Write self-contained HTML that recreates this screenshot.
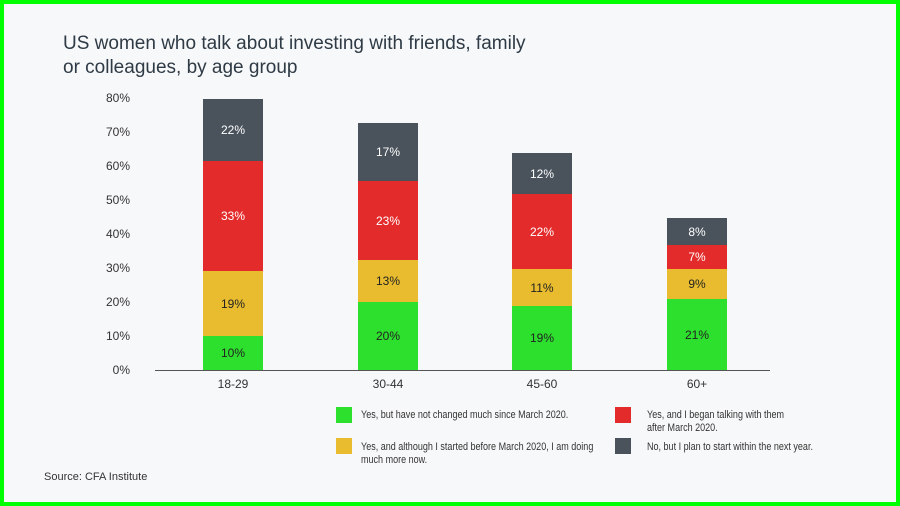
<!DOCTYPE html>
<html><head><meta charset="utf-8"><style>
body{margin:0;width:900px;height:506px;overflow:hidden;font-family:"Liberation Sans",sans-serif;}
.wrap{position:absolute;left:0;top:0;width:892px;height:498px;border:4px solid #0f0;background:#f7f8f9;}
.t{position:absolute;left:63px;top:32px;font-size:19px;color:#2e3a45;line-height:24px;}
.yl{position:absolute;left:90px;width:40px;text-align:right;font-size:12px;color:#333;}
.b{position:absolute;width:60px;display:flex;align-items:center;justify-content:center;font-size:12px;}
.xl{position:absolute;top:377px;width:60px;text-align:center;font-size:12px;color:#333;}
.lg{position:absolute;width:16px;height:16px;}
.lt{position:absolute;font-size:11px;color:#333;line-height:13px;transform:scaleX(0.82);transform-origin:0 0;white-space:nowrap;}
</style></head><body>
<div class="wrap"></div>
<div class="t">US women who talk about investing with friends, family<br>or colleagues, by age group</div>
<div class="yl" style="top:91px">80%</div>
<div class="yl" style="top:125px">70%</div>
<div class="yl" style="top:159px">60%</div>
<div class="yl" style="top:193px">50%</div>
<div class="yl" style="top:227px">40%</div>
<div class="yl" style="top:261px">30%</div>
<div class="yl" style="top:295px">20%</div>
<div class="yl" style="top:329px">10%</div>
<div class="yl" style="top:363px">0%</div>
<div style="position:absolute;left:155px;top:370px;width:615px;height:1px;background:#555"></div>

<div class="b" style="left:203px;top:99px;height:62px;background:#4a535c;color:#fff">22%</div>
<div class="b" style="left:203px;top:161px;height:110px;background:#e32b2b;color:#fff">33%</div>
<div class="b" style="left:203px;top:271px;height:65px;background:#e8bc2e;color:#222">19%</div>
<div class="b" style="left:203px;top:336px;height:34px;background:#2ee02e;color:#222">10%</div>

<div class="b" style="left:358px;top:123px;height:58px;background:#4a535c;color:#fff">17%</div>
<div class="b" style="left:358px;top:181px;height:79px;background:#e32b2b;color:#fff">23%</div>
<div class="b" style="left:358px;top:260px;height:42px;background:#e8bc2e;color:#222">13%</div>
<div class="b" style="left:358px;top:302px;height:68px;background:#2ee02e;color:#222">20%</div>

<div class="b" style="left:512px;top:153px;height:41px;background:#4a535c;color:#fff">12%</div>
<div class="b" style="left:512px;top:194px;height:75px;background:#e32b2b;color:#fff">22%</div>
<div class="b" style="left:512px;top:269px;height:37px;background:#e8bc2e;color:#222">11%</div>
<div class="b" style="left:512px;top:306px;height:64px;background:#2ee02e;color:#222">19%</div>

<div class="b" style="left:667px;top:218px;height:27px;background:#4a535c;color:#fff">8%</div>
<div class="b" style="left:667px;top:245px;height:24px;background:#e32b2b;color:#fff">7%</div>
<div class="b" style="left:667px;top:269px;height:30px;background:#e8bc2e;color:#222">9%</div>
<div class="b" style="left:667px;top:299px;height:71px;background:#2ee02e;color:#222">21%</div>

<div class="xl" style="left:203px">18-29</div>
<div class="xl" style="left:358px">30-44</div>
<div class="xl" style="left:512px">45-60</div>
<div class="xl" style="left:667px">60+</div>

<div class="lg" style="left:336px;top:407px;background:#2ee02e"></div>
<div class="lt" style="left:361px;top:409px">Yes, but have not changed much since March 2020.</div>
<div class="lg" style="left:336px;top:438px;background:#e8bc2e"></div>
<div class="lt" style="left:361px;top:441px">Yes, and although I started before March 2020, I am doing<br>much more now.</div>
<div class="lg" style="left:615px;top:407px;background:#e32b2b"></div>
<div class="lt" style="left:647px;top:409px">Yes, and I began talking with them<br>after March 2020.</div>
<div class="lg" style="left:615px;top:438px;background:#4a535c"></div>
<div class="lt" style="left:647px;top:441px">No, but I plan to start within the next year.</div>

<div style="position:absolute;left:44px;top:471px;font-size:11px;color:#333">Source: CFA Institute</div>
</body></html>
